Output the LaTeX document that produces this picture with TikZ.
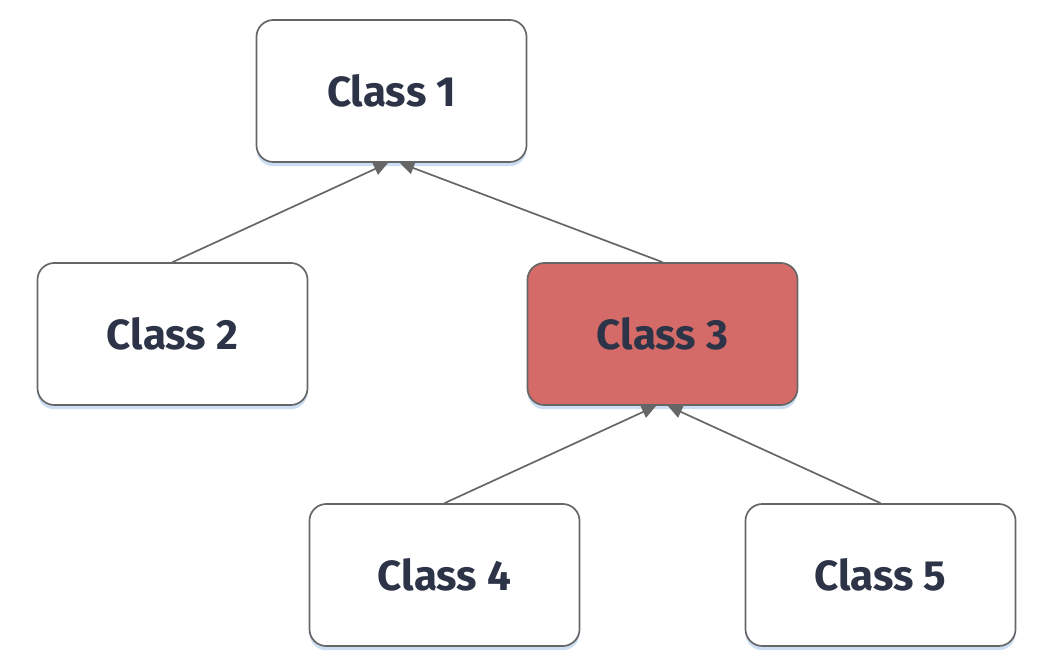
\documentclass[tikz,border=0pt]{standalone}
\usepackage{fontspec}
\setmainfont{Fira Sans}
\usepackage{tikz}
\usetikzlibrary{arrows.meta}
\usetikzlibrary{shadows}
\definecolor{mytext}{RGB}{46,52,72}
\definecolor{myborder}{RGB}{102,102,102}
\definecolor{myred}{RGB}{212,107,104}
\definecolor{myshadow}{RGB}{170,200,235}
\tikzset{
	classbox/.style={draw=myborder, line width=1.2pt, rounded corners=12pt, fill=white,
		minimum width=6.75cm, minimum height=3.55cm, text=mytext,
		font=\bfseries\fontsize{30}{36}\selectfont,
		drop shadow={shadow xshift=0pt, shadow yshift=-3pt, fill=myshadow, opacity=0.6}},
	inherit/.style={-{Triangle[length=10pt, width=9pt]}, draw=myborder, color=myborder, line width=1.2pt}
}

\begin{document}
\begin{tikzpicture}[x=0.025cm, y=-0.025cm]
	\useasboundingbox (0,0) rectangle (1040,664);

	\node[classbox] (class1) at (391.5,91) {Class 1};
	\node[classbox] (class2) at (172.5,334) {Class 2};
	\node[classbox, fill=myred] (class3) at (662.5,334) {Class 3};
	\node[classbox] (class4) at (444.5,575) {Class 4};
	\node[classbox] (class5) at (880.5,575) {Class 5};

	\coordinate (in1a) at (388,163);
	\coordinate (in1b) at (400,163);
	\coordinate (in3a) at (656,406);
	\coordinate (in3b) at (668,406);

	\draw[inherit] (class2.north) to (in1a);
	\draw[inherit] (class3.north) to (in1b);
	\draw[inherit] (class4.north) to (in3a);
	\draw[inherit] (class5.north) to (in3b);
\end{tikzpicture}
\end{document}
